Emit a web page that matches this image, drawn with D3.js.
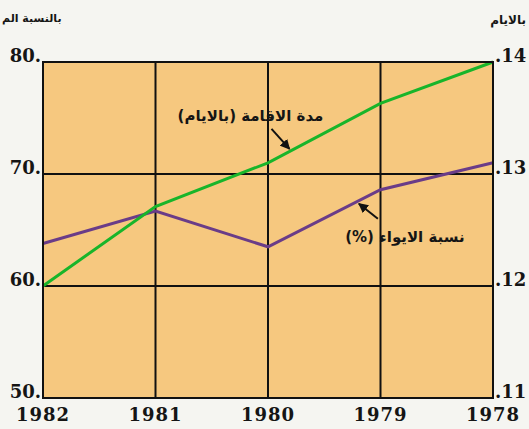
<!DOCTYPE html>
<html>
<head>
<meta charset="utf-8">
<script src="https://cdn.jsdelivr.net/npm/d3@7"></script>
<style>
  html, body { margin: 0; padding: 0; background: #f5f5f1; }
  svg { display: block; }
</style>
</head>
<body>
<div id="chart"></div>
<script>
// data
const years = ["1982", "1981", "1980", "1979", "1978"];
const occupancy = [63.8, 66.7, 63.5, 68.6, 71.0];   // نسبة الايواء (%) - left axis
const stayDays = [12.0, 12.71, 13.1, 13.63, 14.0];  // مدة الاقامة (بالايام) - right axis
const leftTicks = [50, 60, 70, 80];
const rightTicks = [11, 12, 13, 14];

const width = 529, height = 429;
const plot = { left: 43, right: 493, top: 62, bottom: 398 };

const svg = d3.select("#chart")
  .append("svg")
  .attr("width", width)
  .attr("height", height);

const x = d3.scalePoint().domain(years).range([plot.left, plot.right]);
const yLeft = d3.scaleLinear().domain([50, 80]).range([plot.bottom, plot.top]);
const yRight = d3.scaleLinear().domain([11, 14]).range([plot.bottom, plot.top]);

// background of plot
svg.append("rect")
  .attr("x", plot.left)
  .attr("y", plot.top)
  .attr("width", plot.right - plot.left)
  .attr("height", plot.bottom - plot.top)
  .attr("fill", "#f6c87f");

// grid
svg.selectAll(".hgrid")
  .data(leftTicks)
  .enter()
  .append("line")
  .attr("x1", plot.left).attr("x2", plot.right)
  .attr("y1", d => yLeft(d)).attr("y2", d => yLeft(d))
  .attr("stroke", "#111").attr("stroke-width", 2);

svg.selectAll(".vgrid")
  .data(years)
  .enter()
  .append("line")
  .attr("x1", d => x(d)).attr("x2", d => x(d))
  .attr("y1", plot.top).attr("y2", plot.bottom)
  .attr("stroke", "#111").attr("stroke-width", 2);

const numFont = "'DejaVu Serif', serif";

// left tick labels
svg.selectAll(".ltick")
  .data(leftTicks)
  .enter()
  .append("text")
  .attr("x", plot.left - 2)
  .attr("y", d => yLeft(d))
  .attr("text-anchor", "end")
  .attr("fill", "#151515")
  .style("font-family", numFont)
  .style("font-weight", "bold")
  .style("font-size", "18px")
  .text(d => d + ".");

// right tick labels
svg.selectAll(".rtick")
  .data(rightTicks)
  .enter()
  .append("text")
  .attr("x", plot.right + 2)
  .attr("y", d => yRight(d))
  .attr("text-anchor", "start")
  .attr("fill", "#151515")
  .style("font-family", numFont)
  .style("font-weight", "bold")
  .style("font-size", "18px")
  .text(d => "." + d);

// year labels
svg.selectAll(".year")
  .data(years)
  .enter()
  .append("text")
  .attr("x", d => x(d))
  .attr("y", 421)
  .attr("text-anchor", "middle")
  .attr("fill", "#151515")
  .style("font-family", numFont)
  .style("font-weight", "bold")
  .style("font-size", "18px")
  .style("letter-spacing", "1px")
  .text(d => d);

// axis titles
svg.append("text")
  .attr("x", 2).attr("y", 22)
  .attr("text-anchor", "start")
  .attr("fill", "#151515")
  .style("font-family", "'DejaVu Sans', sans-serif")
  .style("font-weight", "bold")
  .style("font-size", "11px")
  .text("بالنسبة الم");

svg.append("text")
  .attr("x", 526).attr("y", 24)
  .attr("text-anchor", "end")
  .attr("fill", "#151515")
  .style("font-family", "'DejaVu Sans', sans-serif")
  .style("font-weight", "bold")
  .style("font-size", "12px")
  .text("بالايام");

// lines
const lineLeft = d3.line().x((d, i) => x(years[i])).y(d => yLeft(d));
const lineRight = d3.line().x((d, i) => x(years[i])).y(d => yRight(d));

svg.append("path")
  .datum(occupancy)
  .attr("d", lineLeft)
  .attr("fill", "none")
  .attr("stroke", "#6a3c88")
  .attr("stroke-width", 3);

svg.append("path")
  .datum(stayDays)
  .attr("d", lineRight)
  .attr("fill", "none")
  .attr("stroke", "#18b52a")
  .attr("stroke-width", 3);

// arrowhead
svg.append("defs").append("marker")
  .attr("id", "arrow")
  .attr("viewBox", "0 0 10 10")
  .attr("refX", 9).attr("refY", 5)
  .attr("markerWidth", 5).attr("markerHeight", 5)
  .attr("orient", "auto")
  .append("path")
  .attr("d", "M0,0 L10,5 L0,10 Z")
  .attr("fill", "#111");

// point along a segment between two years
function along(values, scale, i, t) {
  return {
    x: x(years[i]) + t * (x(years[i + 1]) - x(years[i])),
    y: scale(values[i]) + t * (scale(values[i + 1]) - scale(values[i]))
  };
}

// annotation: green
const gTip = along(stayDays, yRight, 2, 0.2);
svg.append("line")
  .attr("x1", gTip.x - 19).attr("y1", gTip.y - 22)
  .attr("x2", gTip.x - 1).attr("y2", gTip.y - 2)
  .attr("stroke", "#111").attr("stroke-width", 2)
  .attr("marker-end", "url(#arrow)");

svg.append("text")
  .attr("x", gTip.x - 40).attr("y", gTip.y - 30)
  .attr("text-anchor", "middle")
  .attr("direction", "rtl")
  .attr("fill", "#151515")
  .style("font-family", "'DejaVu Sans', sans-serif")
  .style("font-weight", "bold")
  .style("font-size", "15px")
  .text("مدة الاقامة (بالايام)");

// annotation: purple
const pTip = along(occupancy, yLeft, 2, 0.79);
svg.append("line")
  .attr("x1", pTip.x + 21).attr("y1", pTip.y + 17)
  .attr("x2", pTip.x + 2).attr("y2", pTip.y + 2)
  .attr("stroke", "#111").attr("stroke-width", 2)
  .attr("marker-end", "url(#arrow)");

svg.append("text")
  .attr("x", pTip.x + 48).attr("y", pTip.y + 40)
  .attr("text-anchor", "middle")
  .attr("direction", "rtl")
  .attr("fill", "#151515")
  .style("font-family", "'DejaVu Sans', sans-serif")
  .style("font-weight", "bold")
  .style("font-size", "15px")
  .text("نسبة الايواء (%)");

// frame
svg.append("rect")
  .attr("x", plot.left)
  .attr("y", plot.top)
  .attr("width", plot.right - plot.left)
  .attr("height", plot.bottom - plot.top)
  .attr("fill", "none")
  .attr("stroke", "#111")
  .attr("stroke-width", 2);
</script>
</body>
</html>
